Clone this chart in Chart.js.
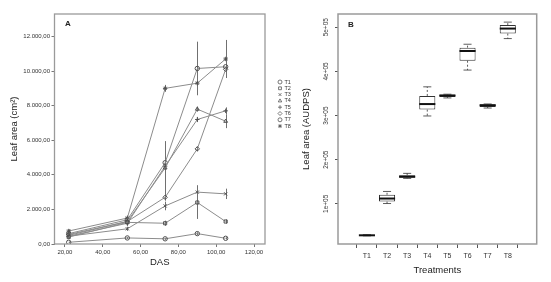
<!DOCTYPE html>
<html>
<head>
<meta charset="utf-8">
<script src="https://cdn.jsdelivr.net/npm/chart.js@4.4.0/dist/chart.umd.min.js"></script>
<style>
  html, body { margin: 0; padding: 0; background: #fff; }
  #wrap { position: relative; width: 551px; height: 282px; overflow: hidden; }
  #chartA { position: absolute; left: 0; top: 0; }
  #chartB { position: absolute; left: 296px; top: 0; }
</style>
</head>
<body>
<div id="wrap">
  <canvas id="chartA" width="296" height="282" style="width:296px;height:282px"></canvas>
  <canvas id="chartB" width="255" height="282" style="width:255px;height:282px"></canvas>
</div>
<script>
// Panel A: leaf area over days after sowing (mean and error)
const days = [22, 53, 73, 90, 105];
const treatments = ["T1", "T2", "T3", "T4", "T5", "T6", "T7", "T8"];
const markers = ["circle", "rect", "crossRot", "triangle", "cross", "rectRot", "circle", "star"];

const areaT1 = [100, 350, 300, 600, 330];
const areaT2 = [400, 1250, 1200, 2400, 1300];
const areaT3 = [450, 880, 2200, 3000, 2900];
const areaT4 = [500, 1300, 4400, 7800, 7100];
const areaT5 = [450, 1200, 4500, 7200, 7700];
const areaT6 = [550, 1300, 2700, 5500, 10100];
const areaT7 = [600, 1400, 4700, 10150, 10250];
const areaT8 = [750, 1500, 9000, 9300, 10700];

const errT1 = [40, 60, 60, 80, 60];
const errT2 = [80, 120, 150, 950, 120];
const errT3 = [80, 120, 250, 400, 300];
const errT4 = [100, 150, 1550, 150, 400];
const errT5 = [80, 150, 200, 150, 200];
const errT6 = [80, 150, 200, 150, 300];
const errT7 = [100, 150, 300, 1550, 200];
const errT8 = [100, 150, 200, 600, 1100];

const xTicksA = [20, 40, 60, 80, 100, 120];
const yTicksA = [0, 2000, 4000, 6000, 8000, 10000, 12000];

// Panel B: AUDPS boxplot per treatment
const boxMin = [27500, 100700, 157600, 299000, 339900, 403000, 317000, 474300];
const boxQ1  = [28000, 105000, 159000, 313400, 342000, 424200, 319400, 485700];
const boxMed = [28700, 112000, 161500, 326000, 345300, 446200, 323200, 497000];
const boxQ3  = [29300, 120500, 165000, 344400, 347600, 453800, 325500, 504800];
const boxMax = [30000, 128000, 169000, 365000, 348300, 461500, 326200, 511600];
const yTicksB = [100000, 200000, 300000, 400000, 500000];

const FONT = "'Liberation Sans', Arial, sans-serif";

function fmtNum(v) {
  const int = Math.round(v).toString().replace(/\B(?=(\d{3})+(?!\d))/g, ".");
  return int + ",00";
}

const areas = [areaT1, areaT2, areaT3, areaT4, areaT5, areaT6, areaT7, areaT8];
const errs = [errT1, errT2, errT3, errT4, errT5, errT6, errT7, errT8];

// frame round the plot area + panel letter
const framePlugin = {
  id: "frame",
  afterDraw(chart, args, opts) {
    const { ctx, chartArea: a } = chart;
    ctx.save();
    ctx.strokeStyle = opts.color;
    ctx.lineWidth = opts.width;
    ctx.strokeRect(a.left, a.top, a.right - a.left, a.bottom - a.top);
    ctx.fillStyle = "#222";
    ctx.font = "bold 8px " + FONT;
    ctx.textAlign = "center";
    ctx.textBaseline = "middle";
    ctx.fillText(opts.letter, a.left + opts.dx, a.top + opts.dy);
    ctx.restore();
  }
};

const errorBars = {
  id: "errorBars",
  beforeDatasetsDraw(chart) {
    const { ctx, scales: { x, y } } = chart;
    ctx.save();
    ctx.strokeStyle = "#707070";
    ctx.lineWidth = 1;
    chart.data.datasets.forEach(ds => {
      ds.data.forEach(p => {
        const px = Math.round(x.getPixelForValue(p.x)) + 0.5;
        ctx.beginPath();
        ctx.moveTo(px, y.getPixelForValue(p.y - p.err));
        ctx.lineTo(px, y.getPixelForValue(p.y + p.err));
        ctx.stroke();
      });
    });
    ctx.restore();
  }
};

const sideLegend = {
  id: "sideLegend",
  afterDraw(chart) {
    const ctx = chart.ctx;
    ctx.save();
    ctx.font = "5.5px " + FONT;
    ctx.textBaseline = "middle";
    ctx.textAlign = "left";
    chart.data.datasets.forEach((ds, i) => {
      const yy = 82 + i * 6.3;
      ctx.strokeStyle = "#555";
      ctx.fillStyle = "rgba(0,0,0,0)";
      ctx.lineWidth = 0.8;
      Chart.helpers.drawPoint(ctx, { pointStyle: ds.pointStyle, radius: 2, borderWidth: 0.8 }, 280, yy);
      ctx.fillStyle = "#333";
      ctx.fillText(ds.label, 284.5, yy);
    });
    ctx.restore();
  }
};

new Chart(document.getElementById("chartA"), {
  type: "line",
  data: {
    datasets: treatments.map((t, i) => ({
      label: t,
      data: days.map((d, j) => ({ x: d, y: areas[i][j], err: errs[i][j] })),
      borderColor: "#8c8c8c",
      borderWidth: 1,
      pointStyle: markers[i],
      pointRadius: 2.2,
      pointBorderWidth: 1,
      pointBorderColor: "#505050",
      pointBackgroundColor: "rgba(255,255,255,0)",
      tension: 0
    }))
  },
  options: {
    responsive: false,
    animation: false,
    layout: { padding: { left: 0, top: 14, right: 31, bottom: 0 } },
    plugins: {
      legend: { display: false },
      tooltip: { enabled: false },
      frame: { color: "#9a9a9a", width: 1.3, letter: "A", dx: 13.5, dy: 10 }
    },
    scales: {
      x: {
        type: "linear",
        min: 14.5,
        max: 125.8,
        afterBuildTicks: axis => { axis.ticks = xTicksA.map(v => ({ value: v })); },
        afterFit: scale => { scale.height = 38; },
        grid: { display: true, drawOnChartArea: false, drawTicks: true, tickLength: 3, color: "#777" },
        border: { display: false },
        ticks: { color: "#333", font: { size: 6, family: FONT }, padding: 2, maxRotation: 0, callback: v => fmtNum(v) },
        title: { display: true, text: "DAS", color: "#222", font: { size: 9.5, family: FONT }, padding: { top: 0, bottom: 14 } }
      },
      y: {
        min: 0,
        max: 13300,
        afterBuildTicks: axis => { axis.ticks = yTicksA.map(v => ({ value: v })); },
        afterFit: scale => { scale.width = 54.5; },
        grid: { display: true, drawOnChartArea: false, drawTicks: true, tickLength: 3, color: "#777" },
        border: { display: false },
        ticks: { color: "#333", font: { size: 6, family: FONT }, padding: 1.5, callback: v => fmtNum(v) },
        title: { display: true, text: "Leaf area (cm²)", color: "#222", font: { size: 9.5, family: FONT }, padding: { top: 9, bottom: 0 } }
      }
    }
  },
  plugins: [errorBars, framePlugin, sideLegend]
});

// whiskers and medians drawn over the floating bars
const boxExtras = {
  id: "boxExtras",
  afterDatasetsDraw(chart) {
    const { ctx, scales: { y } } = chart;
    const meta = chart.getDatasetMeta(0);
    ctx.save();
    ctx.strokeStyle = "#333";
    meta.data.forEach((bar, i) => {
      const cx = bar.x;
      const w = bar.width;
      const yMin = y.getPixelForValue(boxMin[i]);
      const yMax = y.getPixelForValue(boxMax[i]);
      const yQ1 = y.getPixelForValue(boxQ1[i]);
      const yQ3 = y.getPixelForValue(boxQ3[i]);
      const yMed = y.getPixelForValue(boxMed[i]);
      ctx.lineWidth = 0.8;
      ctx.setLineDash([2, 2]);
      ctx.beginPath();
      ctx.moveTo(cx, yQ3); ctx.lineTo(cx, yMax);
      ctx.moveTo(cx, yQ1); ctx.lineTo(cx, yMin);
      ctx.stroke();
      ctx.setLineDash([]);
      ctx.beginPath();
      ctx.moveTo(cx - w / 4, yMax); ctx.lineTo(cx + w / 4, yMax);
      ctx.moveTo(cx - w / 4, yMin); ctx.lineTo(cx + w / 4, yMin);
      ctx.stroke();
      ctx.lineWidth = 2;
      ctx.strokeStyle = "#111";
      ctx.beginPath();
      ctx.moveTo(cx - w / 2, yMed); ctx.lineTo(cx + w / 2, yMed);
      ctx.stroke();
      ctx.strokeStyle = "#333";
    });
    ctx.restore();
  }
};

new Chart(document.getElementById("chartB"), {
  type: "bar",
  data: {
    datasets: [{
      label: "AUDPS",
      data: treatments.map((t, i) => ({ x: i + 1, y: [boxQ1[i], boxQ3[i]] })),
      backgroundColor: "#ffffff",
      borderColor: "#333",
      borderWidth: 1,
      borderSkipped: false,
      barPercentage: 1,
      categoryPercentage: 0.8
    }]
  },
  options: {
    responsive: false,
    animation: false,
    layout: { padding: { left: 0, top: 14, right: 14.3, bottom: 0 } },
    plugins: {
      legend: { display: false },
      tooltip: { enabled: false },
      frame: { color: "#9a9a9a", width: 1.5, letter: "B", dx: 13, dy: 11 }
    },
    scales: {
      x: {
        type: "linear",
        min: 0.18,
        max: 8.82,
        afterBuildTicks: axis => { axis.ticks = treatments.map((t, i) => ({ value: i + 1 })); },
        afterFit: scale => { scale.height = 38; },
        grid: { display: true, drawOnChartArea: false, drawTicks: true, tickLength: 4, color: "#555" },
        border: { display: false },
        ticks: { color: "#333", font: { size: 7, family: FONT }, padding: 4, maxRotation: 0, callback: v => treatments[v - 1] },
        title: { display: true, text: "Treatments", color: "#222", font: { size: 9.5, family: FONT }, padding: { top: 0, bottom: 5.5 } }
      },
      y: {
        min: 9000,
        max: 530000,
        afterBuildTicks: axis => { axis.ticks = yTicksB.map(v => ({ value: v })); },
        afterFit: scale => { scale.width = 42; },
        grid: { display: true, drawOnChartArea: false, drawTicks: true, tickLength: 3, color: "#555" },
        border: { display: false },
        ticks: { color: "#333", font: { size: 6.5, family: FONT }, padding: 0, minRotation: 90, maxRotation: 90, crossAlign: "center", callback: v => (v / 100000) + "e+05" },
        title: { display: true, text: "Leaf area (AUDPS)", color: "#222", font: { size: 9.5, family: FONT }, padding: { top: 4.3, bottom: 0 } }
      }
    }
  },
  plugins: [boxExtras, framePlugin]
});
</script>
</body>
</html>
